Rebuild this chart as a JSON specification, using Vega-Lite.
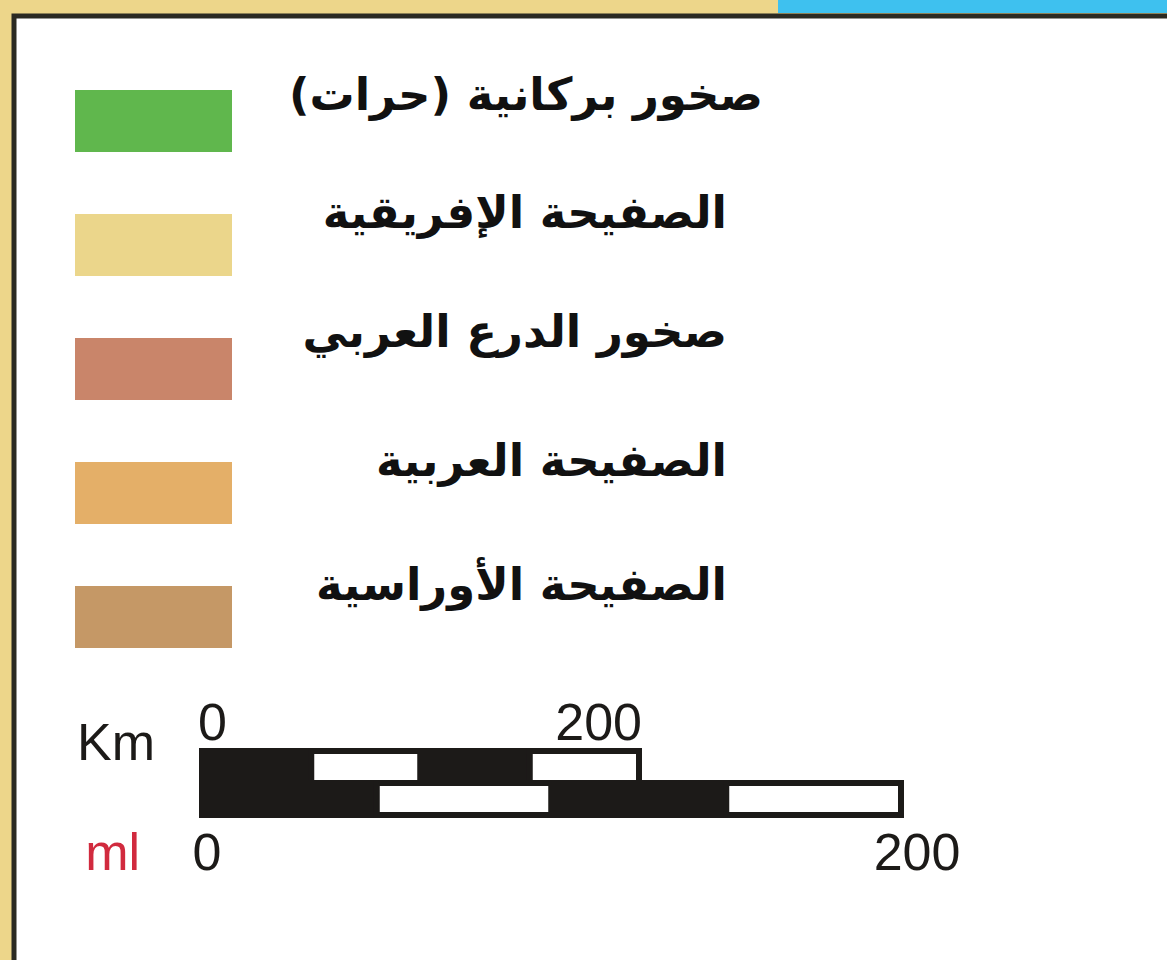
{
  "$schema": "https://vega.github.io/schema/vega-lite/v6.json",
  "width": 1157,
  "height": 948,
  "autosize": "none",
  "padding": {"left": 14, "top": 16, "right": -4, "bottom": -4},
  "background": "#EDD68A",
  "view": {"fill": "#FFFFFF", "stroke": "#2B2A22", "strokeWidth": 5},
  "datasets": {
    "frame": [
      {"panel": "west", "share": 2},
      {"panel": "east", "share": 1}
    ],
    "legend": [
      {"rank": 1, "label": "صخور بركانية (حرات)\u200f"},
      {"rank": 2, "label": "الصفيحة الإفريقية"},
      {"rank": 3, "label": "صخور الدرع العربي"},
      {"rank": 4, "label": "الصفيحة العربية"},
      {"rank": 5, "label": "الصفيحة الأوراسية"}
    ],
    "scalebar": [
      {"unit": "km", "from": 0, "to": 50, "shade": "dark"},
      {"unit": "km", "from": 50, "to": 100, "shade": "light"},
      {"unit": "km", "from": 100, "to": 150, "shade": "dark"},
      {"unit": "km", "from": 150, "to": 200, "shade": "light"},
      {"unit": "mi", "from": 0, "to": 50, "shade": "dark"},
      {"unit": "mi", "from": 50, "to": 100, "shade": "light"},
      {"unit": "mi", "from": 100, "to": 150, "shade": "dark"},
      {"unit": "mi", "from": 150, "to": 200, "shade": "light"}
    ],
    "ticks": [
      {"unit": "km", "value": 0},
      {"unit": "km", "value": 200},
      {"unit": "mi", "value": 0},
      {"unit": "mi", "value": 200}
    ],
    "units": [
      {"unit": "km", "name": "Km"},
      {"unit": "mi", "name": "ml"}
    ]
  },
  "layer": [
    {
      "data": {"name": "frame"},
      "mark": {"type": "bar"},
      "encoding": {
        "x": {"field": "share", "type": "quantitative", "stack": "zero", "scale": {"domain": [0, 3], "range": [-14, 1153]}, "axis": null},
        "order": {"field": "share", "sort": "descending"},
        "y": {"datum": "frame", "type": "nominal", "scale": {"type": "band", "range": [-16, -3], "paddingInner": 0, "paddingOuter": 0}, "axis": null},
        "color": {"field": "panel", "type": "nominal", "scale": {"domain": ["west", "east"], "range": ["#EDD68A", "#3EC1EF"]}, "legend": null}
      }
    },
    {
      "data": {"name": "legend"},
      "layer": [
        {
          "mark": {"type": "rect"},
          "encoding": {
            "x": {"value": 61},
            "x2": {"value": 218},
            "y": {"field": "label", "type": "nominal", "sort": {"field": "rank", "op": "min"}, "scale": {"type": "band", "range": [74, 632], "paddingInner": 0.5, "paddingOuter": 0}, "axis": null},
            "color": {"field": "label", "type": "nominal", "sort": {"field": "rank", "op": "min"}, "scale": {"range": ["#60B74D", "#EBD68B", "#C9856A", "#E4AF68", "#C59866"]}, "legend": null}
          }
        },
        {
          "mark": {"type": "text", "font": "DejaVu Sans", "fontWeight": "bold", "fontSize": 45, "align": "right", "baseline": "middle", "fill": "#111111",
            "dx": {"expr": "datum.rank == 1 ? 36 : 0"},
            "dy": {"expr": "datum.rank == 1 ? 6 : (datum.rank == 3 ? -5 : 0)"}},
          "encoding": {
            "x": {"value": 713},
            "y": {"field": "label", "type": "nominal", "sort": {"field": "rank", "op": "min"}, "bandPosition": 0},
            "text": {"field": "label", "type": "nominal"}
          }
        }
      ]
    },
    {
      "layer": [
        {
          "data": {"name": "scalebar"},
          "transform": [{"filter": "datum.unit == 'km'"}],
          "mark": {"type": "rect", "stroke": "#1C1A18", "strokeWidth": 6},
          "encoding": {
            "x": {"field": "from", "type": "quantitative", "scale": {"domain": [0, 200], "range": [188, 625]}, "axis": null},
            "x2": {"field": "to"},
            "y": {"field": "unit", "type": "nominal", "scale": {"type": "band", "domain": ["km", "mi"], "range": [735, 799], "paddingInner": 0, "paddingOuter": 0}, "axis": null},
            "color": {"field": "shade", "type": "nominal", "scale": {"domain": ["dark", "light"], "range": ["#1C1A18", "#FFFFFF"]}, "legend": null}
          }
        },
        {
          "data": {"name": "ticks"},
          "transform": [{"filter": "datum.unit == 'km'"}],
          "mark": {"type": "text", "font": "Liberation Sans", "fontSize": 52, "baseline": "alphabetic", "align": {"expr": "datum.value == 0 ? 'left' : 'right'"}, "dx": {"expr": "datum.value == 0 ? -4 : 3"}, "dy": -11, "fill": "#1C1A18"},
          "encoding": {
            "x": {"field": "value", "type": "quantitative"},
            "y": {"field": "unit", "type": "nominal", "bandPosition": 0},
            "text": {"field": "value", "type": "quantitative"}
          }
        },
        {
          "data": {"name": "units"},
          "transform": [{"filter": "datum.unit == 'km'"}],
          "mark": {"type": "text", "font": "Liberation Sans", "fontSize": 52, "baseline": "alphabetic", "align": "right", "dx": -47, "dy": 9, "fill": "#1C1A18"},
          "encoding": {
            "x": {"datum": 0, "type": "quantitative"},
            "y": {"field": "unit", "type": "nominal", "bandPosition": 0},
            "text": {"field": "name", "type": "nominal"}
          }
        }
      ]
    },
    {
      "layer": [
        {
          "data": {"name": "scalebar"},
          "transform": [{"filter": "datum.unit == 'mi'"}],
          "mark": {"type": "rect", "stroke": "#1C1A18", "strokeWidth": 6},
          "encoding": {
            "x": {"field": "from", "type": "quantitative", "scale": {"domain": [0, 200], "range": [188, 887]}, "axis": null},
            "x2": {"field": "to"},
            "y": {"field": "unit", "type": "nominal", "scale": {"type": "band", "domain": ["km", "mi"], "range": [735, 799], "paddingInner": 0, "paddingOuter": 0}, "axis": null},
            "color": {"field": "shade", "type": "nominal", "scale": {"domain": ["dark", "light"], "range": ["#1C1A18", "#FFFFFF"]}, "legend": null}
          }
        },
        {
          "data": {"name": "ticks"},
          "transform": [{"filter": "datum.unit == 'mi'"}],
          "mark": {"type": "text", "font": "Liberation Sans", "fontSize": 52, "baseline": "alphabetic", "align": "center", "dx": {"expr": "datum.value == 0 ? 5 : 16"}, "dy": 55, "fill": "#1C1A18"},
          "encoding": {
            "x": {"field": "value", "type": "quantitative"},
            "y": {"field": "unit", "type": "nominal", "bandPosition": 1},
            "text": {"field": "value", "type": "quantitative"}
          }
        },
        {
          "data": {"name": "units"},
          "transform": [{"filter": "datum.unit == 'mi'"}],
          "mark": {"type": "text", "font": "Liberation Sans", "fontSize": 52, "baseline": "alphabetic", "align": "right", "dx": -62, "dy": 55, "fill": "#D12A3E"},
          "encoding": {
            "x": {"datum": 0, "type": "quantitative"},
            "y": {"field": "unit", "type": "nominal", "bandPosition": 1},
            "text": {"field": "name", "type": "nominal"}
          }
        }
      ]
    }
  ],
  "resolve": {"scale": {"x": "independent", "y": "independent", "color": "independent"}}
}
